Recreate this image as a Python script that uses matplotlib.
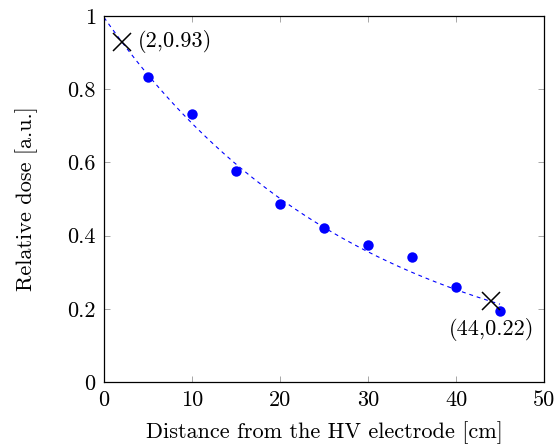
import numpy as np
import matplotlib
matplotlib.use("Agg")
import matplotlib.pyplot as plt

plt.rcParams["font.family"] = "serif"
plt.rcParams["font.serif"] = ["cmr10", "DejaVu Serif"]
plt.rcParams["mathtext.fontset"] = "cm"
plt.rcParams["axes.formatter.use_mathtext"] = True

# Measured relative dose along the line from the HV electrode
distance_cm = [5, 10, 15, 20, 25, 30, 35, 40, 45]
relative_dose = [0.833, 0.731, 0.576, 0.487, 0.422, 0.373, 0.341, 0.259, 0.195]

# Marked points on the exponential fit
marked_x = [2, 44]
marked_y = [0.93, 0.22]
marked_labels = ["(2,0.93)", "(44,0.22)"]

x_ticks = [0, 10, 20, 30, 40, 50]
y_ticks = [0, 0.2, 0.4, 0.6, 0.8, 1]
y_tick_labels = ["0", "0.2", "0.4", "0.6", "0.8", "1"]

# Exponential fit passing through the two marked points
decay = np.log(marked_y[0] / marked_y[1]) / (marked_x[1] - marked_x[0])
amplitude = marked_y[0] * np.exp(decay * marked_x[0])
x_fit = np.linspace(0, 45, 200)
y_fit = amplitude * np.exp(-decay * x_fit)

FS = 16

fig = plt.figure(figsize=(5.55, 4.48), dpi=100)
ax = fig.add_axes([104 / 555, 1 - 382 / 448, 440 / 555, 366 / 448])

ax.plot(x_fit, y_fit, linestyle=(0, (3.5, 3.5)), color="blue", linewidth=0.8, zorder=2)
ax.plot(distance_cm, relative_dose, "o", color="blue", markersize=7.5,
        markeredgewidth=0, zorder=3)
ax.plot(marked_x, marked_y, "x", color="black", markersize=13, markeredgewidth=1.1,
        zorder=4)

ax.annotate(marked_labels[0], (marked_x[0], marked_y[0]), xytext=(12, 0),
            textcoords="offset points", ha="left", va="center", fontsize=FS)
ax.annotate(marked_labels[1], (marked_x[1], marked_y[1]), xytext=(0, -12),
            textcoords="offset points", ha="center", va="top", fontsize=FS)

ax.set_xlim(0, 50)
ax.set_ylim(0, 1)
ax.set_xticks(x_ticks)
ax.set_xticklabels([str(v) for v in x_ticks])
ax.set_yticks(y_ticks)
ax.set_yticklabels(y_tick_labels)
ax.tick_params(direction="in", top=True, right=True, length=4.5, width=0.6,
               color="#999999", labelsize=FS, pad=6)
for spine in ax.spines.values():
    spine.set_linewidth(0.9)

ax.set_xlabel("Distance from the HV electrode [cm]", fontsize=FS, labelpad=8)
ax.set_ylabel("Relative dose [a.u.]", fontsize=FS, labelpad=21)

fig.savefig("out.png", dpi=100)
